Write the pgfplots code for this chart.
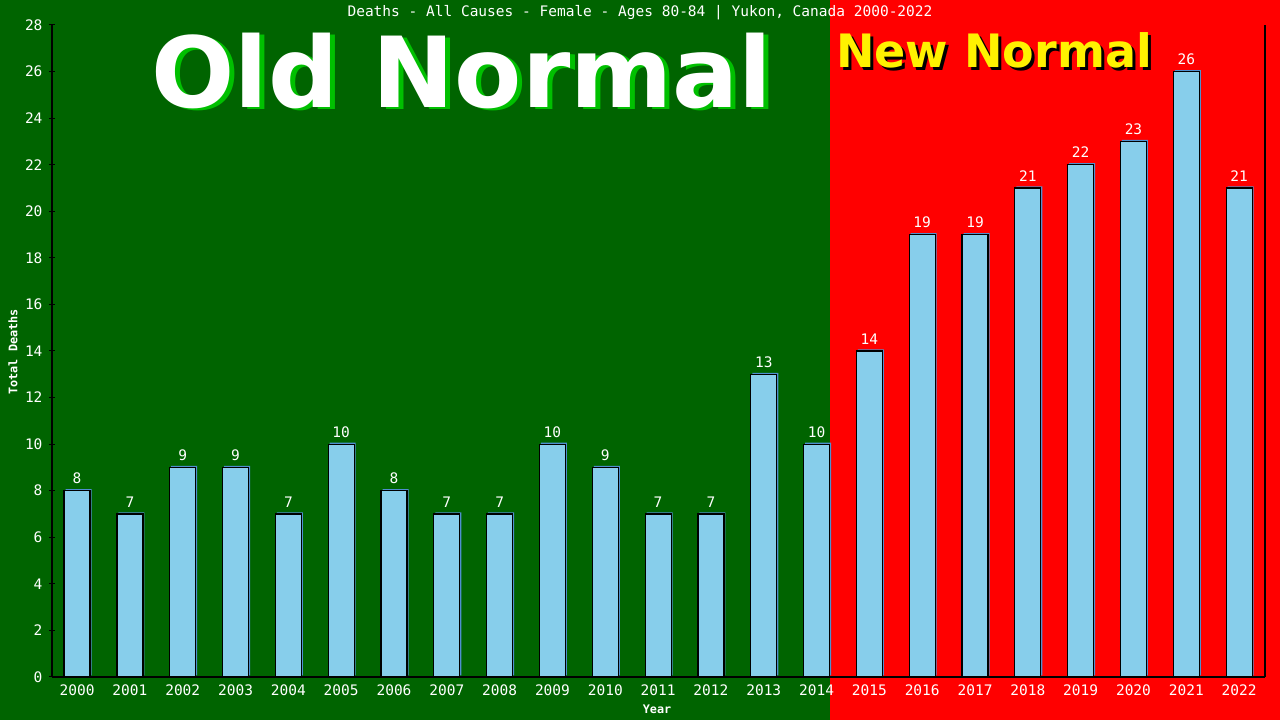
\documentclass[border=0pt]{standalone}
\usepackage{fontspec}
\setmainfont{DejaVu Sans}
\newfontfamily\mono{DejaVu Sans Mono}
\usepackage{pgfplots}
\pgfplotsset{compat=1.18}
\usepackage{pgfplotstable}

\definecolor{oldgreen}{HTML}{006400}
\definecolor{newred}{HTML}{FF0000}
\definecolor{barblue}{HTML}{87CEEB}
\definecolor{shadowblue}{HTML}{4F8FCF}
\definecolor{oldshadow}{HTML}{00C000}

\pgfplotstableread{
i year deaths
0 2000 8
1 2001 7
2 2002 9
3 2003 9
4 2004 7
5 2005 10
6 2006 8
7 2007 7
8 2008 7
9 2009 10
10 2010 9
11 2011 7
12 2012 7
13 2013 13
14 2014 10
15 2015 14
16 2016 19
17 2017 19
18 2018 21
19 2019 22
20 2020 23
21 2021 26
22 2022 21
}\deaths

\begin{document}
\begin{tikzpicture}[x=1pt,y=1pt]
\useasboundingbox (0,0) rectangle (1280,720);
% background halves
\fill[oldgreen] (0,0) rectangle (830,720);
\fill[newred] (830,0) rectangle (1280,720);

% big labels
\node[text=oldshadow, font=\fontsize{98}{98}\selectfont\bfseries] at (467,647) {Old Normal};
\node[text=white, font=\fontsize{98}{98}\selectfont\bfseries] at (462,649) {Old Normal};
\node[text=black, font=\fontsize{46}{46}\selectfont\bfseries] at (997,667) {New Normal};
\node[text=yellow, font=\fontsize{46}{46}\selectfont\bfseries] at (994,670) {New Normal};

\begin{axis}[
    at={(52pt,43pt)}, anchor=south west,
    scale only axis,
    width=1213pt, height=652pt,
    xmin=-0.475, xmax=22.49,
    ymin=0, ymax=28,
    axis x line*=bottom, axis y line*=left,
    axis line style={-, black, line width=1.5pt},
    xtick=data,
    xticklabels={2000,2001,2002,2003,2004,2005,2006,2007,2008,2009,2010,2011,2012,2013,2014,2015,2016,2017,2018,2019,2020,2021,2022},
    x tick style={draw=none},
    ytick={0,2,...,28},
    y tick style={black, line width=1pt},
    major tick length=6pt, tick align=center,
    tick label style={text=white, font=\mono\fontsize{14.5}{16}\selectfont},
    /pgf/number format/assume math mode=true,
    xticklabel style={yshift=-1pt},
    yticklabel style={xshift=-3pt},
    clip=false,
]
% shadow behind each bar
\addplot[ybar, bar width=26pt, bar shift=0pt, fill=shadowblue, draw=none,
    xshift=1.5pt, yshift=1.5pt] table[x=i, y=deaths] {\deaths};
\addplot[ybar, bar width=26pt, bar shift=0pt, fill=barblue, draw=black, line width=1.2pt,
    nodes near coords,
    every node near coord/.append style={text=white, font=\mono\fontsize{14.5}{16}\selectfont, yshift=3pt},
    ] table[x=i, y=deaths] {\deaths};
\draw[black, line width=1.5pt] (rel axis cs:1,0) -- (rel axis cs:1,1);
\end{axis}

% title and axis labels
\node[text=white, font=\mono\fontsize{14.5}{16}\selectfont] at (640,707) {Deaths - All Causes - Female - Ages 80-84 | Yukon, Canada 2000-2022};
\node[text=white, font=\mono\bfseries\fontsize{11.8}{13}\selectfont] at (657,11) {Year};
\node[text=white, font=\mono\bfseries\fontsize{11.8}{13}\selectfont, rotate=90] at (13,368) {Total Deaths};
\end{tikzpicture}
\end{document}
